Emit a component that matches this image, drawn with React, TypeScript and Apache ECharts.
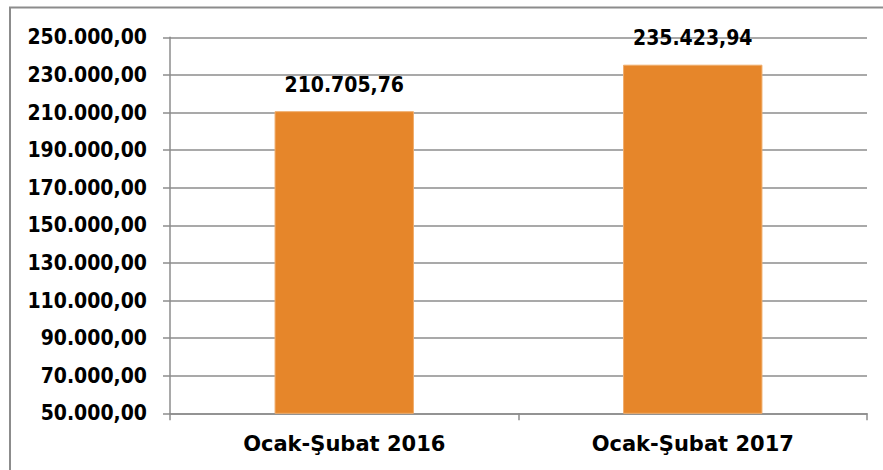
import React, { useEffect, useRef } from "react";
import * as echarts from "echarts";

const categories = ["Ocak-Şubat 2016", "Ocak-Şubat 2017"];
const values = [210705.76, 235423.94];
const axisMin = 50000;
const axisMax = 250000;
const axisStep = 20000;

function fmtTR(v: number): string {
  const fixed = Math.abs(v).toFixed(2);
  const [intPart, dec] = fixed.split(".");
  const withDots = intPart.replace(/\B(?=(\d{3})+(?!\d))/g, ".");
  return (v < 0 ? "-" : "") + withDots + "," + dec;
}

const numFont = '"DejaVu Sans Condensed", "Liberation Sans", sans-serif';
const catFont = '"DejaVu Sans", "Liberation Sans", sans-serif';
const gray = "#8c8c8c";

export default function App() {
  const ref = useRef<HTMLDivElement>(null);
  useEffect(() => {
    if (!ref.current) return;
    const chart = echarts.init(ref.current, undefined, { renderer: "svg" });
    chart.setOption({
      animation: false,
      backgroundColor: "#ffffff",
      grid: {
        left: 170,
        top: 37.3,
        right: 16,
        bottom: 56.7,
        containLabel: false,
        outerBoundsMode: "none",
      },
      graphic: [
        {
          type: "polyline",
          shape: { points: [[10, 470], [10, 7.5], [883, 7.5]] },
          style: { fill: "none", stroke: gray, lineWidth: 2 },
          silent: true,
        },
      ],
      xAxis: {
        type: "category",
        data: categories,
        axisLine: { show: true, lineStyle: { color: gray, width: 1.5 } },
        axisTick: { show: true, length: 7, lineStyle: { color: gray, width: 1.5 } },
        axisLabel: {
          margin: 20,
          color: "#000",
          fontFamily: catFont,
          fontWeight: "bold",
          fontSize: 21,
        },
      },
      yAxis: {
        type: "value",
        min: axisMin,
        max: axisMax,
        interval: axisStep,
        axisLine: { show: true, lineStyle: { color: gray, width: 1.5 } },
        axisTick: { show: true, length: 7, lineStyle: { color: gray, width: 1.5 } },
        splitLine: { show: true, lineStyle: { color: gray, width: 1.5 } },
        axisLabel: {
          margin: 23,
          color: "#000",
          fontFamily: numFont,
          fontWeight: "bold",
          fontSize: 21,
          formatter: (v: number) => fmtTR(v),
        },
      },
      series: [
        {
          type: "bar",
          data: values,
          barWidth: "40%",
          itemStyle: { color: "#E6862A", borderColor: "#F0AD6C", borderWidth: 1 },
          label: {
            show: true,
            position: "top",
            distance: 16,
            color: "#000",
            fontFamily: numFont,
            fontWeight: "bold",
            fontSize: 21,
            formatter: (p: any) => fmtTR(p.value),
          },
        },
      ],
    });
    return () => chart.dispose();
  }, []);
  return (
    <div
      ref={ref}
      style={{ position: "absolute", left: 0, top: 0, width: 883, height: 470 }}
    />
  );
}
